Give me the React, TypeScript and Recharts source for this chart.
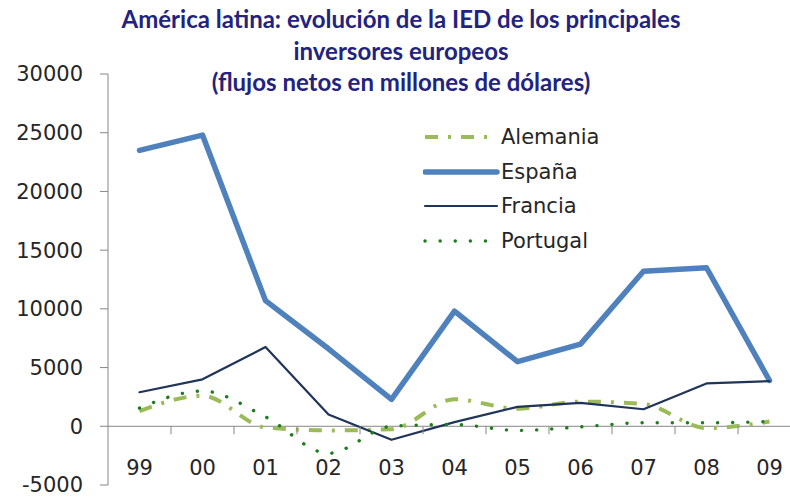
import React from 'react';
import { LineChart, Line, XAxis, YAxis, ReferenceLine } from 'recharts';

const years = ['99', '00', '01', '02', '03', '04', '05', '06', '07', '08', '09'];
const alemania = [1300, 2600, -100, -350, -250, 2300, 1500, 2100, 1900, -150, 400];
const espana = [23500, 24800, 10700, 6600, 2300, 9800, 5500, 7000, 13200, 13500, 3900];
const francia = [2900, 4000, 6750, 1000, -1150, 350, 1650, 2000, 1450, 3650, 3850];
const portugal = [1550, 3000, 800, -2300, 0, 150, -350, -50, 300, 300, 400];
const yTicks = [-5000, 0, 5000, 10000, 15000, 20000, 25000, 30000];
const titleLines = [
  'América latina: evolución de la IED de los principales',
  'inversores europeos',
  '(flujos netos en millones de dólares)',
];

const data = years.map((y, i) => ({
  year: y,
  Alemania: alemania[i],
  'España': espana[i],
  Francia: francia[i],
  Portugal: portugal[i],
}));

const SERIES = [
  { key: 'Alemania', color: '#9BBB59', width: 4, dash: '13 10 3 10', type: 'monotone', cap: 'butt' },
  { key: 'España', color: '#4F81BD', width: 5.5, dash: undefined, type: 'linear', cap: 'round' },
  { key: 'Francia', color: '#1F3458', width: 2.2, dash: undefined, type: 'linear', cap: 'round' },
  { key: 'Portugal', color: '#1E7B1E', width: 3.4, dash: '0.1 15', type: 'monotone', cap: 'round' },
];

const W = 802;
const H = 500;
const TOP = 74;
const XAXIS_H = 15;
const YMIN = -5000;
const YMAX = 30000;
const PLOT_BOTTOM = H - XAXIS_H;
const zeroY = TOP + ((YMAX - 0) / (YMAX - YMIN)) * (PLOT_BOTTOM - TOP);
const AXIS_COLOR = '#868686';
const TEXT_COLOR = '#262626';
const FONT = '"DejaVu Sans", sans-serif';
const HALF_BAND = 31.5;

const XTick = (props: any) => {
  const { x, payload, index } = props;
  return (
    <g>
      <text x={x} y={zeroY + 49} textAnchor="middle" fill={TEXT_COLOR} fontSize={21} fontFamily={FONT}>
        {payload.value}
      </text>
      {index < years.length - 1 && (
        <line x1={x + HALF_BAND} x2={x + HALF_BAND} y1={zeroY} y2={zeroY + 8} stroke={AXIS_COLOR} strokeWidth={1} />
      )}
    </g>
  );
};

const LegendBox = () => (
  <div style={{ position: 'absolute', left: 423, top: 120, fontFamily: FONT, fontSize: 21, color: TEXT_COLOR, zIndex: 2 }}>
    {SERIES.map((s) => (
      <div key={s.key} style={{ display: 'flex', alignItems: 'center', height: 34.5 }}>
        <svg width={78} height={12} style={{ display: 'block' }}>
          <line
            x1={2}
            x2={74}
            y1={6}
            y2={6}
            stroke={s.color}
            strokeWidth={s.width}
            strokeDasharray={s.dash}
            strokeLinecap={s.cap as any}
          />
        </svg>
        <span style={{ lineHeight: '24px' }}>{s.key}</span>
      </div>
    ))}
  </div>
);

export default function App() {
  return (
    <div style={{ position: 'absolute', left: 0, top: 0, width: 790, height: 500, overflow: 'hidden', background: '#fff' }}>
      <div
        style={{
          position: 'absolute',
          left: 0,
          top: 3,
          width: 802,
          textAlign: 'center',
          fontFamily: 'Lato, sans-serif',
          fontWeight: 700,
          fontSize: 24,
          lineHeight: '31.5px',
          color: '#23237F',
          zIndex: 2,
        }}
      >
        {titleLines.map((t) => (
          <div key={t}>{t}</div>
        ))}
      </div>
      <LegendBox />
      <LineChart width={W} height={H} data={data} margin={{ top: TOP, right: 1, bottom: 0, left: 0 }}>
        <XAxis
          dataKey="year"
          height={XAXIS_H}
          axisLine={false}
          tickLine={false}
          interval={0}
          padding={{ left: HALF_BAND, right: HALF_BAND }}
          tick={<XTick />}
        />
        <YAxis
          width={108}
          domain={[YMIN, YMAX]}
          ticks={yTicks}
          interval={0}
          axisLine={{ stroke: AXIS_COLOR }}
          tickLine={{ stroke: AXIS_COLOR }}
          tickSize={8}
          tickMargin={17}
          tick={{ fill: TEXT_COLOR, fontSize: 21, fontFamily: FONT }}
        />
        <ReferenceLine y={0} stroke={AXIS_COLOR} strokeWidth={1} />
        {SERIES.map((s) => (
          <Line
            key={s.key}
            dataKey={s.key}
            type={s.type as any}
            stroke={s.color}
            strokeWidth={s.width}
            strokeDasharray={s.dash}
            strokeLinecap={s.cap as any}
            strokeLinejoin="round"
            dot={false}
            activeDot={false}
            isAnimationActive={false}
          />
        ))}
      </LineChart>
    </div>
  );
}
